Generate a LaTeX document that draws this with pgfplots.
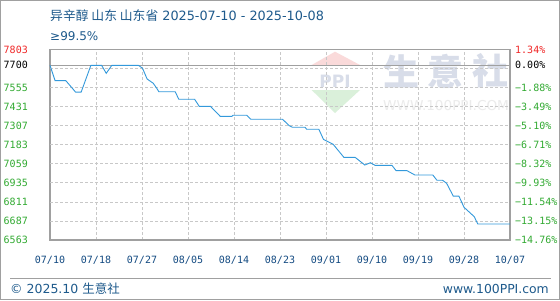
\documentclass[border=0pt]{standalone}
\usepackage{pgfplots}
\pgfplotsset{compat=1.18}
\usepackage{pgfplotstable}
\usepackage{fontspec}
\setmainfont{DejaVu Sans}
\newfontfamily\cjk{Noto Sans CJK SC}
\newfontfamily\tickfont{DejaVu Sans Mono}
\definecolor{titleblue}{RGB}{30,90,140}
\definecolor{tickblue}{RGB}{20,75,130}
\definecolor{lgreen}{RGB}{50,170,50}
\definecolor{lred}{RGB}{240,40,40}
\definecolor{lineblue}{RGB}{51,153,219}
\definecolor{framegray}{RGB}{160,160,160}
\definecolor{gridgray}{RGB}{200,200,200}
\definecolor{wmark}{RGB}{216,221,233}
\definecolor{wpink}{RGB}{250,218,218}
\definecolor{wgreen}{RGB}{218,240,218}

\pgfplotstableread{
x y
0 7700
1.0 7600
3.1 7600
5.0 7526
6.1 7526
8.0 7700
10.1 7700
11.0 7648
12.1 7700
17.3 7700
18.1 7681
19.0 7611
20.2 7583
20.9 7550
21.3 7528
24.5 7528
25.2 7479
28.3 7479
29.2 7433
31.4 7433
33.3 7368
35.6 7368
35.8 7375
38.5 7375
39.3 7349
45.5 7349
46.8 7307
47.4 7297
49.9 7297
50.2 7284
52.6 7284
53.5 7218
54.4 7203
55.4 7186
57.5 7101
59.7 7101
61.6 7051
62.7 7066
63.6 7049
66.9 7049
67.7 7015
69.8 7015
71.4 6986
74.9 6986
75.7 6952
76.8 6952
77.6 6932
78.9 6849
80.0 6849
81.0 6776
83.0 6715
83.7 6667
90 6667
}\pricedata

\begin{document}
\begin{tikzpicture}[x=1bp,y=1bp]
\path[use as bounding box] (0,0) rectangle (560,300);
\fill[white] (0,0) rectangle (560,300);
\draw[framegray, line width=1bp] (0.5,0.5) rectangle (559.5,299.5);
% watermark
\fill[wpink] (311.7,235) -- (335,248.3) -- (360,235) -- cycle;
\fill[wgreen] (311.7,210) -- (360,210) -- (335,187) -- cycle;
\node[text=wmark, font=\bfseries\fontsize{17bp}{17bp}\selectfont, inner sep=0] at (335,219) {PPI};
\foreach \cx/\ch in {401/生,445/意,490/社}
  \node[text=wmark, font=\cjk\bfseries\fontsize{36bp}{36bp}\selectfont, inner sep=0] at (\cx,229) {\ch};
\node[text=black!8, font=\fontsize{13.6bp}{14bp}\selectfont, anchor=base west, inner sep=0] at (383,190) {WWW.100PPI.COM};
% titles
\node[anchor=base west, inner sep=0, text=titleblue, font=\fontsize{12.8bp}{14bp}\selectfont] at (50,280) {{\cjk 异辛醇 山东 山东省} 2025-07-10 - 2025-10-08};
\node[anchor=base west, inner sep=0, text=titleblue, font=\fontsize{12bp}{14bp}\selectfont] at (50,260) {≥99.5\%};
% footer
\draw[framegray, line width=1bp] (10,22) -- (551,22);
\node[anchor=base west, inner sep=0, text=titleblue, font=\fontsize{12.5bp}{14bp}\selectfont] at (10,7) {© 2025.10 {\cjk 生意社}};
\node[anchor=base east, inner sep=0, text=titleblue, font=\fontsize{12.4bp}{14bp}\selectfont] at (549,7) {www.100PPI.com};

\begin{axis}[
  at={(50bp,60bp)}, anchor=south west,
  scale only axis, width=460bp, height=190.5bp,
  xmin=0, xmax=90, ymin=6563, ymax=7803,
  axis line style={draw=framegray, line width=1.2bp},
  major tick length=0,
  xtick={0,9,...,90},
  xticklabels={07/10,07/18,07/27,08/05,08/14,08/23,09/01,09/10,09/19,09/28,10/07},
  xticklabel style={anchor=base, inner sep=0, yshift=-23bp, text=tickblue, font=\tickfont\fontsize{10bp}{12bp}\selectfont},
  xmajorgrids=true,
  major grid style={draw=gridgray, line width=0.8bp, dash pattern=on 3bp off 2bp},
  ytick={6563,6687,6811,6935,7059,7183,7307,7431,7555,7700,7803},
  yticklabels={6563,6687,6811,6935,7059,7183,7307,7431,7555,\textcolor{black}{7700},\textcolor{lred}{7803}},
  yticklabel style={anchor=east, inner sep=0, xshift=-22bp, text=lgreen, font=\tickfont\fontsize{10bp}{12bp}\selectfont},
  extra y ticks={6687,6811,6935,7059,7183,7307,7431,7555,7679},
  extra y tick labels={},
  extra y tick style={grid=major},
  clip=false,
]
\addplot[draw=framegray, line width=1.2bp] coordinates {(0,7700) (90,7700)};
\addplot[draw=lineblue, line width=0.9bp] table[x=x,y=y] {\pricedata};
\end{axis}

\begin{axis}[
  at={(50bp,60bp)}, anchor=south west,
  scale only axis, width=460bp, height=190.5bp,
  xmin=0, xmax=90, ymin=6563, ymax=7803,
  axis x line=none, axis y line*=right,
  y axis line style={draw=none},
  major tick length=0,
  ytick={6563,6687,6811,6935,7059,7183,7307,7431,7555,7700,7803},
  yticklabels={−14.76\%,−13.15\%,−11.54\%,−9.93\%,−8.32\%,−6.71\%,−5.10\%,−3.49\%,−1.88\%,\textcolor{black}{0.00\%},\textcolor{lred}{1.34\%}},
  yticklabel style={anchor=west, inner sep=0, xshift=5bp, text=lgreen, font=\tickfont\fontsize{10bp}{12bp}\selectfont},
]
\addplot[draw=none] coordinates {(0,7700)};
\end{axis}
\end{tikzpicture}
\end{document}
